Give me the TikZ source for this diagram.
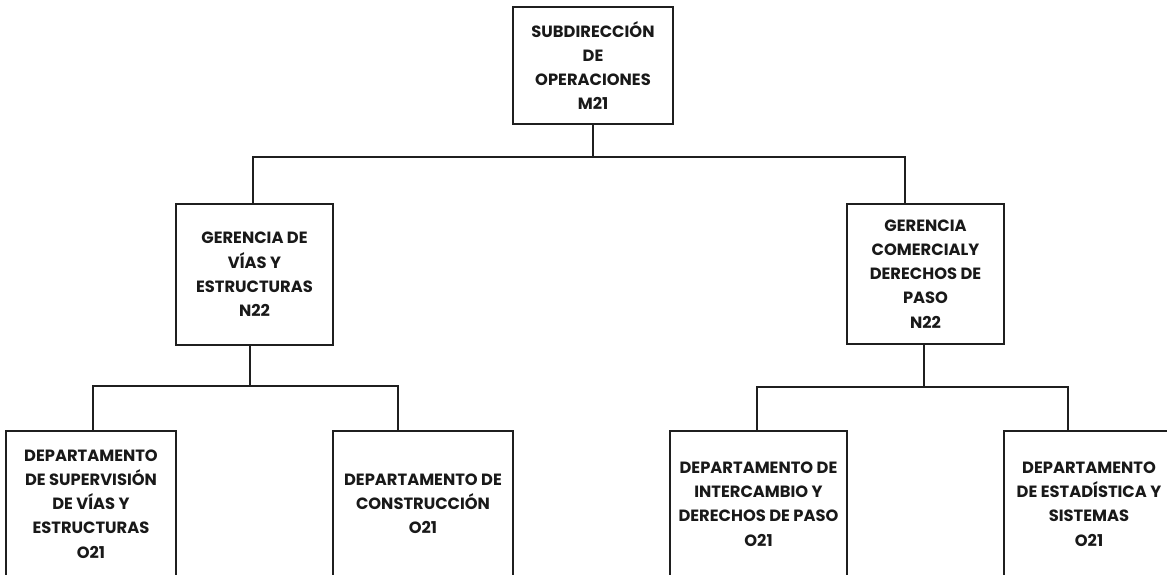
\documentclass[tikz,border=0pt]{standalone}
\usepackage{fontspec}
\setmainfont{Poppins}
\begin{document}
\begin{tikzpicture}[x=1pt,y=-1pt,
  box/.style={draw=black!88, line width=1.4pt, align=center, inner sep=0pt,
    font=\fontsize{16.3}{24.2}\selectfont\bfseries, text=black!90},
  link/.style={draw=black!88, line width=1.2pt}]
\useasboundingbox (0,0) rectangle (1167,574);
\clip (0,0) rectangle (1167,574);
\fill[white] (0,0) rectangle (1167,574);
\node[box, minimum width=160pt, minimum height=117pt] (top) at (593,65.5)
  {SUBDIRECCIÓN\\DE\\OPERACIONES\\M21};
\node[box, minimum width=157pt, minimum height=141pt] (gl) at (254.5,274.5)
  {GERENCIA DE\\VÍAS Y\\ESTRUCTURAS\\N22};
\node[box, minimum width=157pt, minimum height=140pt] (gr) at (925.5,274)
  {GERENCIA\\COMERCIALY\\DERECHOS DE\\PASO\\N22};
\node[box, minimum width=170pt, minimum height=146pt] (d1) at (91,504)
  {DEPARTAMENTO\\DE SUPERVISIÓN\\DE VÍAS Y\\ESTRUCTURAS\\O21};
\node[box, minimum width=180pt, minimum height=146pt] (d2) at (423,504)
  {DEPARTAMENTO DE\\CONSTRUCCIÓN\\O21};
\node[box, minimum width=177pt, minimum height=146pt] (d3) at (758.5,504)
  {DEPARTAMENTO DE\\INTERCAMBIO Y\\DERECHOS DE PASO\\O21};
\node[box, minimum width=170pt, minimum height=146pt] (d4) at (1089,504)
  {DEPARTAMENTO\\DE ESTADÍSTICA Y\\SISTEMAS\\O21};
% junctions
\coordinate (j1) at (593,157);
\coordinate (j2) at (250,386);
\coordinate (j3) at (924,387);
% level 1
\draw[link] (top.south) -- (j1);
\draw[link] (j1) -| ([xshift=-1.5pt]gl.north);
\draw[link] (j1) -| ([xshift=-20.5pt]gr.north);
% level 2 left
\draw[link] ([xshift=-4.5pt]gl.south) -- (j2);
\draw[link] (j2) -| ([xshift=2pt]d1.north);
\draw[link] (j2) -| ([xshift=-25pt]d2.north);
% level 2 right
\draw[link] ([xshift=-1.5pt]gr.south) -- (j3);
\draw[link] (j3) -| ([xshift=-1.5pt]d3.north);
\draw[link] (j3) -| ([xshift=-21pt]d4.north);
\end{tikzpicture}
\end{document}
